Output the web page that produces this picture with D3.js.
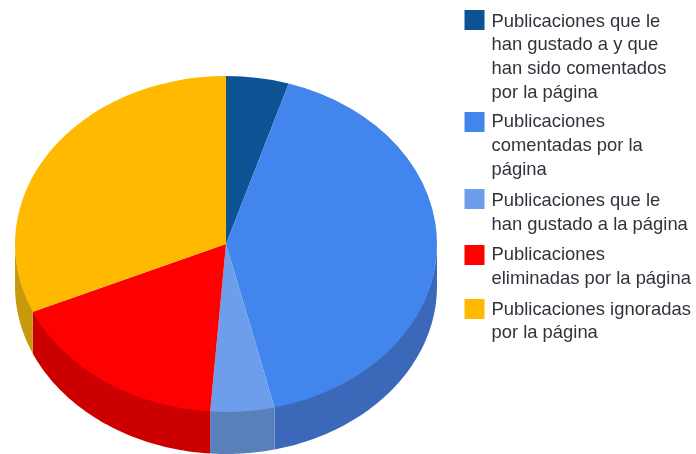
<!DOCTYPE html>
<html><head><meta charset="utf-8">
<script src="https://cdn.jsdelivr.net/npm/d3@7"></script>
<style>html,body{margin:0;padding:0;background:#fff}svg{display:block}text{font-family:"Liberation Sans",Arial,sans-serif}</style>
</head><body><svg id="c" width="696" height="454"></svg>
<script>
const categories = ["Publicaciones que le han gustado a y que han sido comentados por la página","Publicaciones comentadas por la página","Publicaciones que le han gustado a la página","Publicaciones eliminadas por la página","Publicaciones ignoradas por la página"];
const values = [4.8, 41.5, 4.9, 17.2, 31.6];
const topColors = ["#0b5394","#4285ec","#6d9eeb","#ff0000","#ffb900"];
const wallColors = ["#094377","#3a67b8","#5a80bb","#cc0000","#c79a08"];
const legendLines = [
  ["Publicaciones que le","han gustado a y que","han sido comentados","por la página"],
  ["Publicaciones","comentadas por la","página"],
  ["Publicaciones que le","han gustado a la página"],
  ["Publicaciones","eliminadas por la página"],
  ["Publicaciones ignoradas","por la página"]
];
const swatchTops = [10,112,189,245,299];
const firstBaselines = [26.5,127,206,260,314.5];
const lineStep = 23.8;

const cx=226, cy=244, rx=211, ry=168, depth=42;
const svg=d3.select("#c");
svg.append("defs").append("filter").attr("id","soft").attr("x","-5%").attr("y","-5%").attr("width","110%").attr("height","110%")
  .append("feGaussianBlur").attr("stdDeviation",0.45);
const pie=d3.pie().sort(null)(values);
const px=a=>cx+rx*Math.sin(a), py=a=>cy-ry*Math.cos(a);

// side walls: visible where the rim faces the viewer (lower half of the ellipse)
const lo=Math.PI/2, hi=3*Math.PI/2;
const line=d3.line().x(d=>d[0]).y(d=>d[1]);
const chart=svg.append("g").attr("filter","url(#soft)");
const walls=chart.append("g");
pie.forEach((p,i)=>{
  const a0=Math.max(p.startAngle,lo), a1=Math.min(p.endAngle,hi);
  if(a1<=a0) return;
  const as=d3.range(0,61).map(k=>a0+(a1-a0)*k/60);
  const pts=as.map(a=>[px(a),py(a)-1]).concat(as.slice().reverse().map(a=>[px(a),py(a)+depth]));
  walls.append("path").attr("d",line(pts)+"Z").attr("fill",wallColors[i]);
});
// top face
const arc=d3.arc().innerRadius(0).outerRadius(1);
const topFace=chart.append("g").attr("transform",`translate(${cx},${cy}) scale(${rx},${ry})`);
topFace.selectAll("path").data(pie).join("path").attr("d",arc).attr("fill",(d,i)=>topColors[i]);

// legend
const lg=svg.append("g").attr("filter","url(#soft)");
legendLines.forEach((ls,i)=>{
  lg.append("rect").attr("x",464.5).attr("y",swatchTops[i]).attr("width",20).attr("height",20).attr("fill",topColors[i]);
  ls.forEach((t,j)=>lg.append("text").attr("x",491.5).attr("y",firstBaselines[i]+j*lineStep)
    .attr("font-size",18.4).attr("fill","#33333d").text(t));
});
</script></body></html>
